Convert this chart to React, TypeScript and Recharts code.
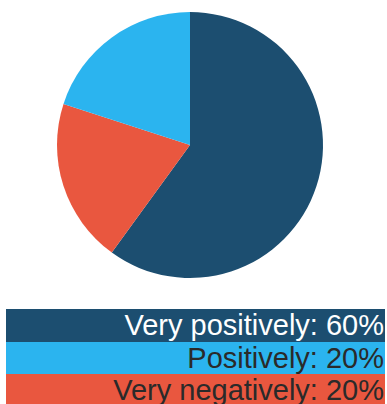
import React from "react";
import { PieChart, Pie, Cell, Legend } from "recharts";

const categories = ["Very positively", "Very negatively", "Positively"];
const values = [60, 20, 20];
const colors = ["#1c4e70", "#e9573f", "#2bb4ef"];
const legendOrder = ["Very positively", "Positively", "Very negatively"];
const legendTextColors = ["#ffffff", "#2a2a2a", "#2a2a2a"];

const data = categories.map((name, i) => ({ name, value: values[i], fill: colors[i] }));

const LegendContent = () => (
  <div style={{ width: 379 }}>
    {legendOrder.map((name, i) => {
      const idx = categories.indexOf(name);
      return (
        <div
          key={name}
          style={{
            background: colors[idx],
            color: legendTextColors[i],
            height: 32.5,
            lineHeight: "32px",
            fontSize: 29,
            fontFamily: "'Liberation Sans', Arial, sans-serif",
            textAlign: "right",
            paddingRight: 1,
            overflow: "hidden",
            whiteSpace: "nowrap",
          }}
        >
          {`${name}: ${values[idx]}%`}
        </div>
      );
    })}
  </div>
);

export default function App() {
  return (
    <div style={{ position: "absolute", left: 0, top: 0, background: "#fff" }}>
      <PieChart width={387} height={404} margin={{ top: 0, right: 0, bottom: 0, left: 0 }}>
        <Pie
          data={data}
          dataKey="value"
          nameKey="name"
          cx={190}
          cy={145}
          outerRadius={133}
          startAngle={90}
          endAngle={-270}
          stroke="none"
          isAnimationActive={false}
        >
          {data.map((d) => (
            <Cell key={d.name} fill={d.fill} />
          ))}
        </Pie>
        <Legend
          content={<LegendContent />}
          wrapperStyle={{ position: "absolute", left: 6, top: 309, width: 379 }}
        />
      </PieChart>
    </div>
  );
}
